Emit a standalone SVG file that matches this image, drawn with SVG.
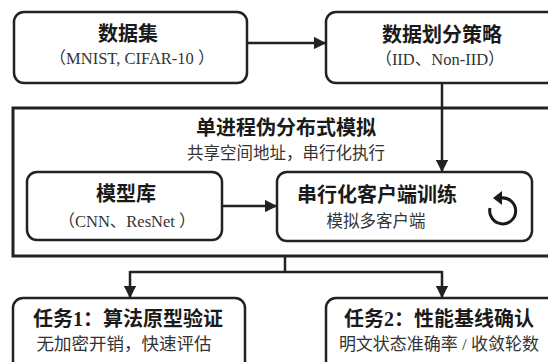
<svg xmlns="http://www.w3.org/2000/svg" width="548" height="362" viewBox="0 0 548 362">
  <defs>
    <marker id="arrow" viewBox="0 0 10 10" refX="9" refY="5" markerWidth="5" markerHeight="5" orient="auto" markerUnits="strokeWidth">
      <path d="M0,0 L10,5 L0,10 z" fill="#222"/>
    </marker>
    <style>
      .box { fill: #fff; stroke: #222; stroke-width: 2.5; }
      .frame { fill: none; stroke: #222; stroke-width: 3; }
      .link { fill: none; stroke: #222; stroke-width: 2.5; }
      .title { font-family: "Liberation Serif", "Noto Sans CJK SC", serif; font-size: 20px; font-weight: bold; fill: #1a1a1a; text-anchor: middle; }
      .sub { font-family: "Liberation Serif", "Noto Sans CJK SC", serif; font-size: 16px; fill: #333; text-anchor: middle; }
      .icon { fill: none; stroke: #1a1a1a; stroke-width: 3; }
    </style>
  </defs>
  <rect width="548" height="362" fill="#fff"/>

  <!-- simulation frame -->
  <g id="simulation">
    <rect class="frame" x="13" y="108" width="545" height="148"/>
    <text class="title" x="286" y="135">单进程伪分布式模拟</text>
    <text class="sub" x="286" y="159" style="font-size:16.5px">共享空间地址，串行化执行</text>
  </g>

  <g id="dataset">
    <rect class="box" x="14" y="12" width="233" height="71" rx="10"/>
    <text class="title" x="128" y="41">数据集</text>
    <text class="sub" x="132" y="64" style="font-size:16.5px">（MNIST, CIFAR-10 ）</text>
  </g>

  <g id="partition">
    <rect class="box" x="326" y="12" width="240" height="71" rx="10"/>
    <text class="title" x="442" y="42">数据划分策略</text>
    <text class="sub" x="440" y="65" style="font-size:16.5px">（IID、Non-IID）</text>
  </g>

  <g id="models">
    <rect class="box" x="27" y="172" width="195" height="68" rx="10"/>
    <text class="title" x="126" y="201">模型库</text>
    <text class="sub" x="127" y="227" style="font-size:16.5px">（CNN、ResNet ）</text>
  </g>

  <g id="serial-training">
    <rect class="box" x="277" y="172" width="255" height="69" rx="10"/>
    <text class="title" x="377" y="202">串行化客户端训练</text>
    <text class="sub" x="376" y="227" style="font-size:16.5px">模拟多客户端</text>
    <path class="icon" d="M490,208 A13,13 0 1 0 501,198"/>
    <path d="M493,198 L502,191 L502,205 z" fill="#1a1a1a"/>
  </g>

  <g id="task1">
    <rect class="box" x="13" y="298" width="232" height="80" rx="10"/>
    <text class="title" x="128" y="326">任务1：算法原型验证</text>
    <text class="sub" x="124" y="350" style="font-size:17.5px">无加密开销，快速评估</text>
  </g>

  <g id="task2">
    <rect class="box" x="326" y="298" width="240" height="80" rx="10"/>
    <text class="title" x="439" y="326">任务2：性能基线确认</text>
    <text class="sub" x="439" y="350" style="font-size:17px">明文状态准确率 / 收敛轮数</text>
  </g>

  <g id="connectors">
    <line class="link" x1="247" y1="43" x2="325" y2="43" marker-end="url(#arrow)"/>
    <line class="link" x1="442" y1="83" x2="442" y2="171" marker-end="url(#arrow)"/>
    <line class="link" x1="222" y1="206" x2="276" y2="206" marker-end="url(#arrow)"/>
    <path class="link" d="M285,256 L285,272"/>
    <path class="link" d="M130,272 L442,272"/>
    <line class="link" x1="130" y1="271" x2="130" y2="297" marker-end="url(#arrow)"/>
    <line class="link" x1="442" y1="271" x2="442" y2="297" marker-end="url(#arrow)"/>
  </g>
</svg>
